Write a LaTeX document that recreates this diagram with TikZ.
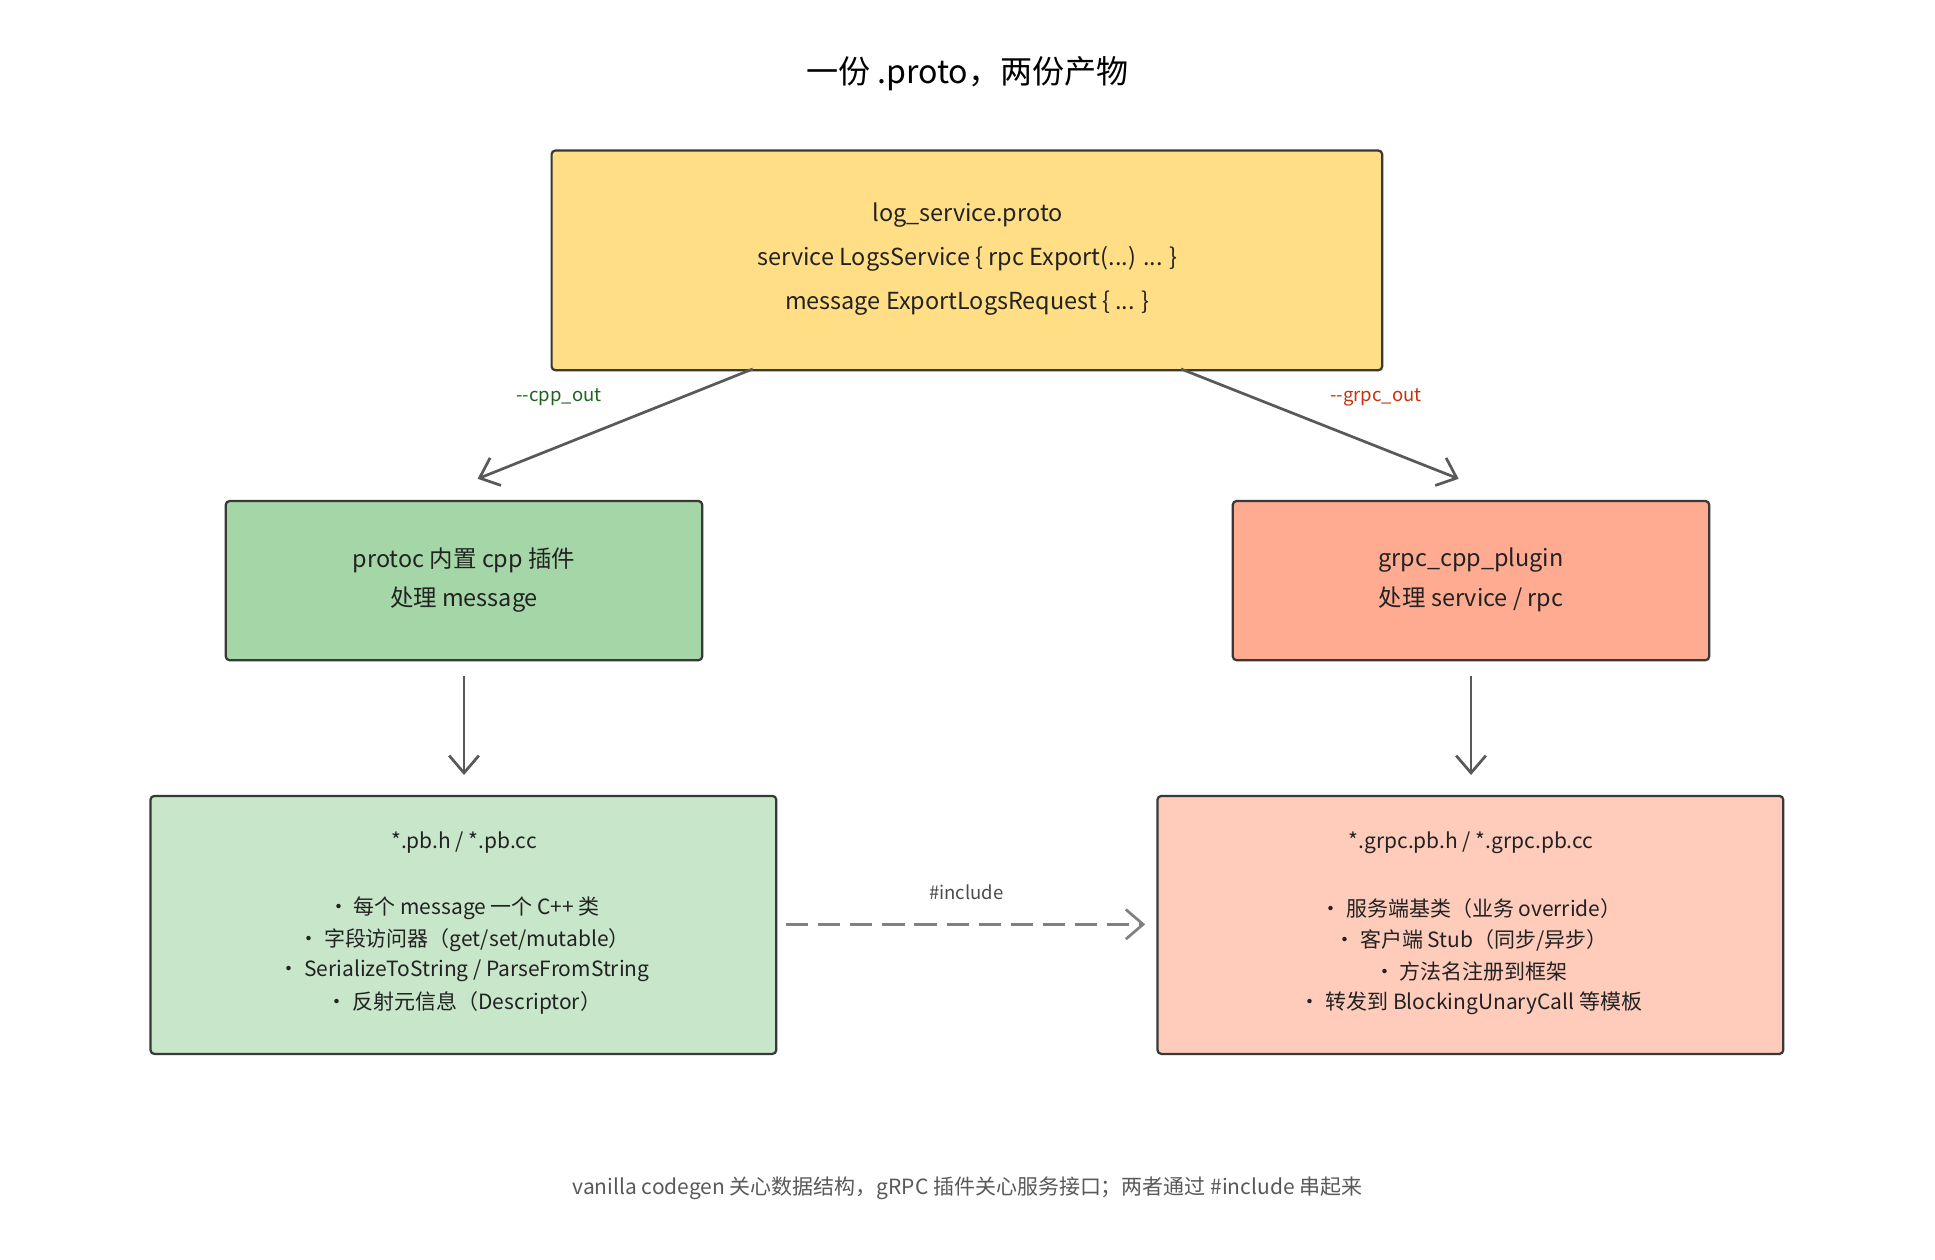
\documentclass[tikz,border=0pt]{standalone}
\usepackage{fontspec}
\setmainfont{Noto Sans CJK SC}
\usetikzlibrary{arrows.meta}
\definecolor{ink}{HTML}{222222}
\begin{document}
\begin{tikzpicture}[x=0.5pt,y=-0.5pt,
 box/.style={draw=ink!90,line width=0.9pt,rounded corners=1.5pt},
 t/.style={font=\fontsize{9.5}{12}\selectfont,text=ink,anchor=center},
 arr/.style={draw=black!65,line width=1.1pt,-{Straight Barb[length=7pt,width=12pt]}},
 lbl/.style={font=\fontsize{7.5}{9}\selectfont}]
\useasboundingbox[fill=white] (0,0) rectangle (1568,1021);
\node[font=\fontsize{13}{15}\selectfont,text=black] (title) at (784,60) {一份 .proto，两份产物};
\draw[box,fill={rgb,255:red,255;green,222;blue,133}] (447,122) rectangle (1120,300);
\coordinate (p1) at (610,299); \coordinate (p2) at (957,299);
\node[t] (a1) at (784,174) {log\_service.proto};
\node[t] (a2) at (784,210) {service LogsService \{ rpc Export(...) ... \}};
\node[t] (a3) at (784,246) {message ExportLogsRequest \{ ... \}};
\draw[box,fill={rgb,255:red,165;green,214;blue,167}] (183,406) rectangle (569,535);
\node[t] at (376,454) {protoc 内置 cpp 插件};
\node[t] at (376,486) {处理 message};
\draw[box,fill={rgb,255:red,255;green,171;blue,145}] (999,406) rectangle (1385,535);
\node[t] at (1192,454) {grpc\_cpp\_plugin};
\node[t] at (1192,486) {处理 service / rpc};
\draw[box,fill={rgb,255:red,200;green,230;blue,201}] (122,645) rectangle (629,854);
\node[t,font=\fontsize{8.5}{11}\selectfont] at (376,683) {*.pb.h / *.pb.cc};
\node[t,font=\fontsize{8.5}{11}\selectfont] at (376,736) {• 每个 message 一个 C++ 类};
\node[t,font=\fontsize{8.5}{11}\selectfont] at (376,762) {• 字段访问器（get/set/mutable）};
\node[t,font=\fontsize{8.5}{11}\selectfont] at (376,787) {• SerializeToString / ParseFromString};
\node[t,font=\fontsize{8.5}{11}\selectfont] at (376,813) {• 反射元信息（Descriptor）};
\draw[box,fill={rgb,255:red,255;green,204;blue,188}] (938,645) rectangle (1445,854);
\node[t,font=\fontsize{8.5}{11}\selectfont] at (1192,683) {*.grpc.pb.h / *.grpc.pb.cc};
\node[t,font=\fontsize{8.5}{11}\selectfont] at (1192,736) {• 服务端基类（业务 override）};
\node[t,font=\fontsize{8.5}{11}\selectfont] at (1192,762) {• 客户端 Stub（同步/异步）};
\node[t,font=\fontsize{8.5}{11}\selectfont] at (1192,787) {• 方法名注册到框架};
\node[t,font=\fontsize{8.5}{11}\selectfont] at (1192,813) {• 转发到 BlockingUnaryCall 等模板};
\coordinate (g1) at (387,388); \coordinate (r1) at (1182,388);
\coordinate (g2a) at (376,548); \coordinate (g2b) at (376,628);
\coordinate (r2a) at (1192,548); \coordinate (r2b) at (1192,628);
\coordinate (d1) at (637,749); \coordinate (d2) at (928,749);
\draw[arr] (p1) -- (g1);
\draw[arr] (p2) -- (r1);
\draw[arr] (g2a) -- (g2b);
\draw[arr] (r2a) -- (r2b);
\draw[arr,draw=black!50,dashed,dash pattern=on 9pt off 4pt] (d1) -- (d2);
\node[lbl,text={rgb,255:red,30;green,100;blue,30}] at (453,322) {-{}-cpp\_out};
\node[lbl,text={rgb,255:red,200;green,50;blue,10}] at (1115,322) {-{}-grpc\_out};
\node[lbl,text=black!70] at (783,723) {\#include};
\node[font=\fontsize{8.5}{11}\selectfont,text=black!65] at (784,963) {vanilla codegen 关心数据结构，gRPC 插件关心服务接口；两者通过 \#include 串起来};
\end{tikzpicture}
\end{document}
